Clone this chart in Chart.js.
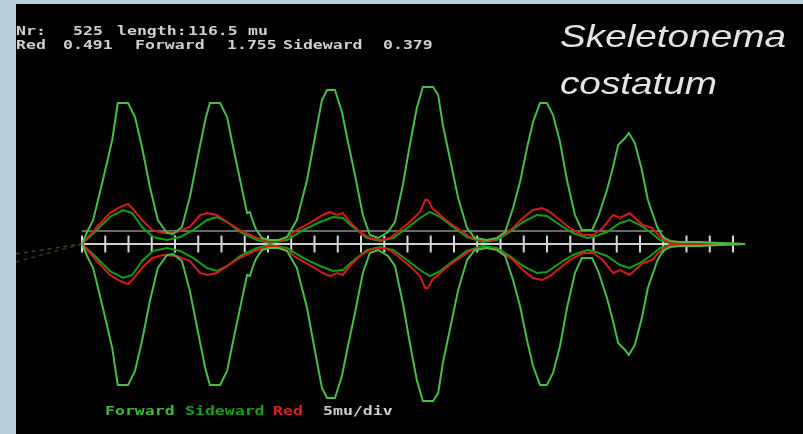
<!DOCTYPE html>
<html>
<head>
<meta charset="utf-8">
<script src="https://cdn.jsdelivr.net/npm/chart.js@4.4.1/dist/chart.umd.min.js"></script>
<style>
  html,body{margin:0;padding:0;}
  body{width:803px;height:434px;overflow:hidden;position:relative;background:#b9d0d8;}
  #panel{position:absolute;left:16px;top:4px;right:0;bottom:0;background:#000;}
  #c{position:absolute;left:0;top:0;}
  .t{position:absolute;font-family:"DejaVu Sans Mono",monospace;font-weight:bold;font-size:13px;line-height:13px;white-space:pre;color:#cfcfcf;transform:scaleX(1.27);transform-origin:left top;}
  #species{position:absolute;left:560px;top:13px;font-family:"Liberation Sans",Arial,sans-serif;font-style:italic;font-size:32px;line-height:47px;color:#e4e4e4;transform:scaleX(1.21);transform-origin:left top;white-space:pre;}
</style>
</head>
<body>
<div id="panel"></div>
<canvas id="c" width="803" height="434"></canvas>

<span class="t" style="left:16px;top:24px">Nr:</span>
<span class="t" style="left:73px;top:24px">525</span>
<span class="t" style="left:117px;top:24px">length:</span>
<span class="t" style="left:188px;top:24px">116.5</span>
<span class="t" style="left:248px;top:24px">mu</span>

<span class="t" style="left:16px;top:38px">Red</span>
<span class="t" style="left:63px;top:38px">0.491</span>
<span class="t" style="left:135px;top:38px">Forward</span>
<span class="t" style="left:227px;top:38px">1.755</span>
<span class="t" style="left:283px;top:38px">Sideward</span>
<span class="t" style="left:383px;top:38px">0.379</span>

<span class="t" style="left:105px;top:404px;color:#3fb83f">Forward</span>
<span class="t" style="left:185px;top:404px;color:#17a017">Sideward</span>
<span class="t" style="left:273px;top:404px;color:#dd2020">Red</span>
<span class="t" style="left:323px;top:404px;color:#cccccc">5mu/div</span>

<div id="species">Skeletonema
costatum</div>

<script>
// ---- data (x in mu along the particle, y in signal units) ----
const fwdX = [0,1.1,2.4,4.5,6.5,7.7,9.9,11.4,12.9,14.6,16.3,18.3,19.6,21.5,23.2,24.9,26.5,27.5,29.7,31.2,32.5,34.0,35.5,36.1,36.8,37.4,38.7,40.4,42.2,44.1,46.2,48.4,50.1,51.6,52.7,54.4,55.9,57.2,58.7,60.4,61.9,63.7,65.8,67.3,69.0,70.5,72.0,73.3,75.5,76.6,77.6,79.1,80.9,82.8,84.5,87.1,89.2,91.0,92.7,94.2,95.7,97.0,98.5,100.0,101.3,102.8,104.3,106.0,107.5,109.7,111.0,112.9,114.2,115.3,116.8,117.6,118.9,120.4,121.7,123.7,124.9,126.5,128.6,132.9,137.2,142.6];
const fwdY = [0,0.134,0.268,0.715,1.162,1.575,1.575,1.419,1.084,0.637,0.268,0.123,0.112,0.190,0.525,0.972,1.385,1.575,1.575,1.419,1.084,0.715,0.346,0.358,0.246,0.168,0.067,0.045,0.045,0.078,0.268,0.715,1.196,1.609,1.721,1.721,1.475,1.140,0.771,0.324,0.101,0.067,0.134,0.246,0.659,1.106,1.520,1.755,1.755,1.665,1.330,0.961,0.514,0.179,0.067,0.045,0.067,0.134,0.402,0.693,1.073,1.363,1.575,1.575,1.441,1.140,0.715,0.324,0.156,0.156,0.302,0.603,0.860,1.106,1.184,1.240,1.128,0.827,0.492,0.190,0.078,0.034,0.022,0.022,0.011,0];

const redX = [0,3.2,6.0,8.2,9.9,10.8,12.9,15.1,17.4,20.4,23.2,25.4,26.9,29.0,31.2,34.0,37.6,40.4,43.2,46.2,49.0,51.8,53.3,54.8,56.1,57.6,59.8,61.9,64.1,66.2,68.4,70.5,72.7,73.8,74.4,75.3,77.0,79.1,81.3,83.4,85.6,88.4,90.5,92.7,94.8,97.0,98.9,100.6,102.8,104.9,107.7,109.9,112.0,114.2,115.7,117.8,118.9,120.6,122.6,124.3,126.5,132.9,142.6];
const redY = [0,0.190,0.346,0.414,0.447,0.402,0.268,0.156,0.123,0.134,0.190,0.324,0.346,0.324,0.246,0.156,0.067,0.022,0.045,0.156,0.235,0.324,0.358,0.324,0.346,0.246,0.134,0.067,0.045,0.067,0.156,0.246,0.358,0.491,0.491,0.402,0.324,0.235,0.156,0.078,0.045,0.045,0.101,0.179,0.291,0.380,0.402,0.358,0.268,0.179,0.101,0.101,0.179,0.324,0.291,0.346,0.291,0.212,0.179,0.078,0.011,0.011,0];

const sideX = [0,3.2,6.0,8.8,10.8,12.9,15.3,18.3,21.1,23.9,26.9,29.0,31.2,34.0,37.6,40.4,44.1,47.5,51.2,54.0,56.1,58.3,61.3,64.1,66.9,69.9,72.7,74.8,77.0,79.8,82.8,86.2,89.2,92.0,94.8,97.8,100.0,102.8,105.6,108.6,109.9,112.9,115.7,117.8,120.0,122.2,124.3,126.5,142.6];
const sideY = [0,0.156,0.302,0.379,0.346,0.190,0.078,0.045,0.078,0.156,0.268,0.302,0.246,0.134,0.045,0.011,0.045,0.156,0.246,0.302,0.291,0.190,0.067,0.034,0.067,0.179,0.291,0.358,0.302,0.190,0.078,0.022,0.045,0.134,0.246,0.324,0.313,0.212,0.123,0.067,0.078,0.134,0.235,0.268,0.212,0.134,0.045,0.011,0];

const tickMu = [0,5,10,15,20,25,30,35,40,45,50,55,60,65,70,75,80,85,90,95,100,105,110,115,120,125,130,135,140];
const axisX = [0,142.6];
const thresholdX = [0,124.9];
const thresholdLevel = 0.145;
const leadX = [-14.2,0];
const leadA = [-0.11,0];
const leadB = [-0.20,0];

// ---- build ----
const pts = (xs, ys, s) => xs.map((x,i)=>({x:x, y:ys[i]*s}));
const lineDs = (label, data, color, w) => ({label, data, borderColor:color, borderWidth:w, pointRadius:0, fill:false, tension:0});

const datasets = [
  lineDs('Forward', pts(fwdX,fwdY,1), '#47bc47', 2),
  lineDs('Forward (mirror)', pts(fwdX,fwdY,-1), '#47bc47', 2),
  lineDs('Red', pts(redX,redY,1), '#d41a1a', 2),
  lineDs('Red (mirror)', pts(redX,redY,-1), '#d41a1a', 2),
  lineDs('Sideward', pts(sideX,sideY,1), '#12a012', 2),
  lineDs('Sideward (mirror)', pts(sideX,sideY,-1), '#12a012', 2),
  {label:'5mu/div', data: tickMu.map(x=>({x, y:0})), showLine:false, pointStyle:'line', pointRotation:90, pointRadius:8.5, pointBorderWidth:2, pointBorderColor:'#d6d6d6', pointBackgroundColor:'#d6d6d6'},
  lineDs('threshold', thresholdX.map(x=>({x, y:thresholdLevel})), '#8c8c8c', 1.5),
  lineDs('axis', axisX.map(x=>({x, y:0})), '#d0d0d0', 2),
  Object.assign(lineDs('leadA', pts(leadX,leadA,1), 'rgba(130,115,60,0.55)', 1.5), {borderDash:[4,4]}),
  Object.assign(lineDs('leadB', pts(leadX,leadB,1), 'rgba(130,115,60,0.45)', 1.5), {borderDash:[4,4]})
];

new Chart(document.getElementById('c'), {
  type: 'line',
  data: { datasets },
  options: {
    responsive: false,
    animation: false,
    devicePixelRatio: 1,
    layout: { padding: 0, autoPadding: false },
    plugins: { legend: { display: false }, tooltip: { enabled: false } },
    scales: {
      x: { type: 'linear', display: false, min: -17.634, max: 155.054 },
      y: { type: 'linear', display: false, min: -2.1229, max: 2.7263 }
    }
  }
});
</script>
</body>
</html>
